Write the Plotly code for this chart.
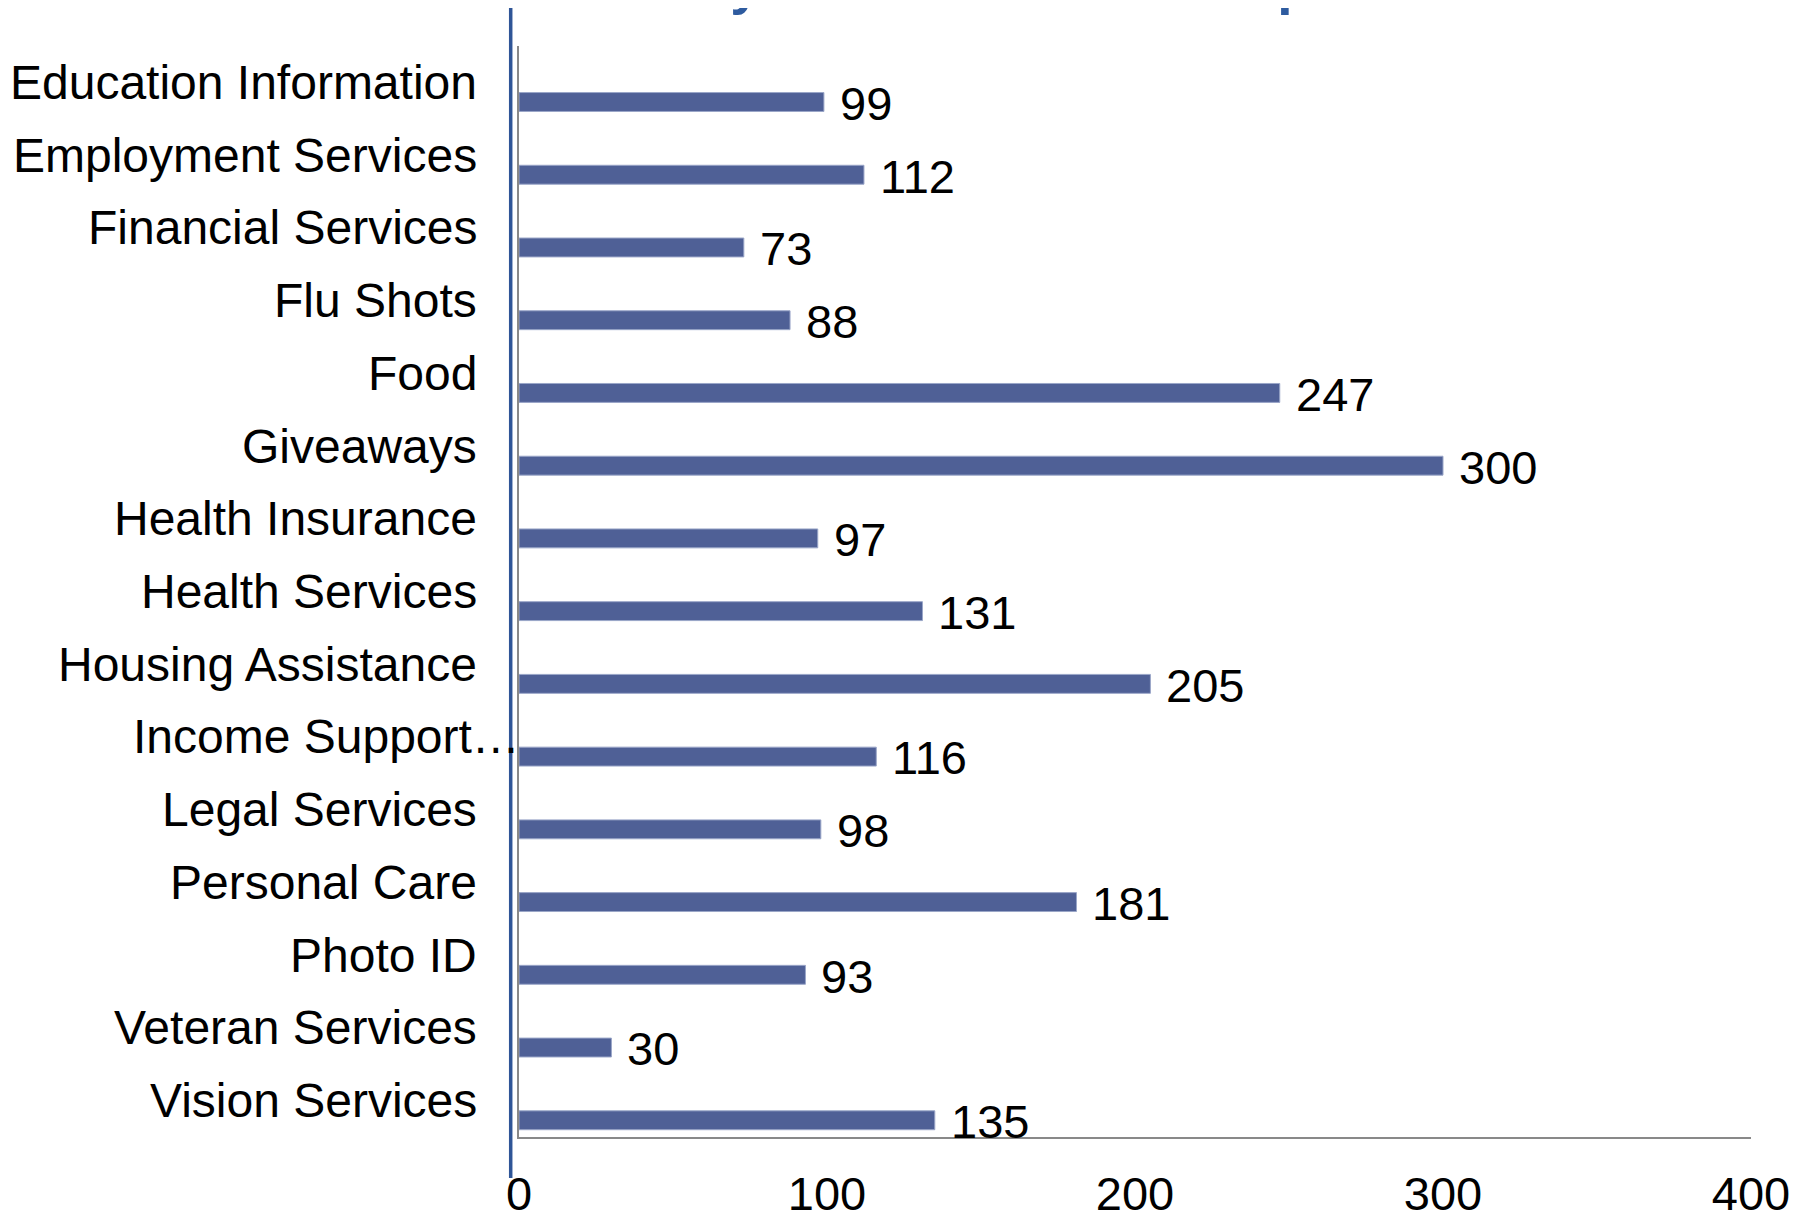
import plotly.graph_objects as go

categories = ["Education Information", "Employment Services", "Financial Services", "Flu Shots",
              "Food", "Giveaways", "Health Insurance", "Health Services", "Housing Assistance",
              "Income Support\u2026", "Legal Services", "Personal Care", "Photo ID",
              "Veteran Services", "Vision Services"]
values = [99, 112, 73, 88, 247, 300, 97, 131, 205, 116, 98, 181, 93, 30, 135]
x_ticks = [0, 100, 200, 300, 400]
title_text = "Services Accessed by Stand Down Participants"

FONT = "Liberation Sans, Arial, sans-serif"
OFF = 8  # page body margin
W, H = 1811 - OFF, 1214 - OFF
L, R, T = 519 - OFF, 60, 46 - OFF
B = H - (1137 - OFF)
PW, PH = W - L - R, H - T - B

def px_x(p):  # page pixel -> paper x
    return (p - OFF - L) / PW

def px_y(p):  # page pixel -> paper y
    return (H - B - (p - OFF)) / PH

fig = go.Figure()
fig.add_trace(go.Bar(
    y=categories, x=values, orientation="h",
    width=0.26, offset=0.14,
    marker=dict(color="#4F6096", line=dict(color="#9AA6C8", width=1)),
    hoverinfo="x+y",
))

annotations = []
for c, v in zip(categories, values):
    annotations.append(dict(
        x=v, y=c, xref="x", yref="y", text=str(v), showarrow=False,
        xanchor="left", yanchor="middle", xshift=14, yshift=-21,
        font=dict(family=FONT, size=47, color="black")))
    annotations.append(dict(
        x=0, y=c, xref="paper", yref="y", text=c, showarrow=False,
        xanchor="right", yanchor="middle",
        xshift=3 if c.endswith("\u2026") else -40,
        font=dict(family=FONT, size=48, color="black")))

annotations.append(dict(
    x=px_x(183), y=px_y(-16), xref="paper", yref="paper",
    text="<b>" + title_text + "</b>", showarrow=False, xanchor="left", yanchor="middle",
    font=dict(family=FONT, size=55, color="#2E5B9F")))

fig.update_layout(
    width=W, height=H,
    margin=dict(l=L, r=R, t=T, b=B, pad=0, autoexpand=False),
    paper_bgcolor="white", plot_bgcolor="white",
    showlegend=False,
    annotations=annotations,
    xaxis=dict(range=[0, 400], tickvals=x_ticks, ticktext=[str(t) for t in x_ticks],
               showgrid=False, zeroline=False, showline=True, linecolor="#898989", linewidth=2,
               ticks="", tickfont=dict(family=FONT, size=47, color="black"),
               ticklabelstandoff=15, automargin=False),
    yaxis=dict(categoryorder="array", categoryarray=categories, range=[14.5, -0.5],
               showticklabels=False, showgrid=False, zeroline=False, automargin=False,
               showline=True, linecolor="#898989", linewidth=2, ticks=""),
    shapes=[dict(type="line", xref="paper", yref="paper",
                 x0=px_x(510.7), x1=px_x(510.7),
                 y0=px_y(7), y1=px_y(1178),
                 line=dict(color="#2F5597", width=3.5), layer="above")],
)

fig.write_html("out.html")
